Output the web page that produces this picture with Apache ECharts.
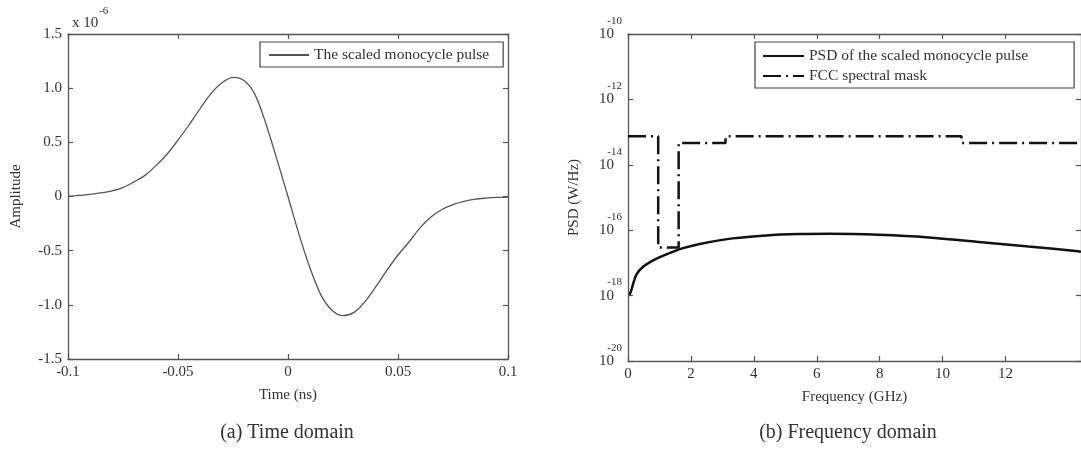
<!DOCTYPE html>
<html>
<head>
<meta charset="utf-8">
<script src="https://cdn.jsdelivr.net/npm/echarts@6/dist/echarts.min.js"></script>
<style>
html,body{margin:0;padding:0;background:#fff;}
#chart{width:1081px;height:452px;}
</style>
</head>
<body>
<div id="chart"></div>
<script>
// ---- (a) Time domain ----
const timeNs = [-0.100,-0.095,-0.090,-0.085,-0.080,-0.075,-0.070,-0.065,-0.060,-0.055,-0.050,-0.045,-0.040,-0.035,-0.030,-0.025,-0.020,-0.015,-0.010,-0.005,
  0.000,0.005,0.010,0.015,0.020,0.025,0.030,0.035,0.040,0.045,0.050,0.055,0.060,0.065,0.070,0.075,0.080,0.085,0.090,0.095,0.100];
// amplitude in units of 1e-6
const amplitude = [0.000,0.010,0.019,0.033,0.052,0.082,0.135,0.195,0.285,0.390,0.520,0.660,0.810,0.950,1.050,1.100,1.070,0.940,0.670,0.340,
  0.000,-0.350,-0.660,-0.910,-1.050,-1.100,-1.070,-0.970,-0.830,-0.680,-0.540,-0.420,-0.290,-0.190,-0.120,-0.075,-0.045,-0.025,-0.015,-0.008,-0.005];

// ---- (b) Frequency domain ----
const freqGHz = [0.05,0.10,0.17,0.27,0.48,0.80,1.22,1.75,2.28,3.33,4.39,5.45,6.40,7.98,9.56,11.15,12.73,14.31,14.40];
const psd = [1.05e-18,1.41e-18,2.40e-18,4.47e-18,7.59e-18,1.20e-17,1.82e-17,2.82e-17,3.80e-17,5.62e-17,6.92e-17,7.59e-17,7.76e-17,7.24e-17,6.03e-17,4.37e-17,3.16e-17,2.29e-17,2.19e-17];
const maskFreq = [0,0.96,0.96,1.61,1.61,3.1,3.1,10.6,10.6,14.4];
const maskPsd = [7.41e-14,7.41e-14,2.95e-17,2.95e-17,4.68e-14,4.68e-14,7.41e-14,7.41e-14,4.68e-14,4.68e-14];
const freqTicks = [0,2,4,6,8,10,12];
const psdTicks = [1e-20,1e-18,1e-16,1e-14,1e-12,1e-10];

const FONT = '"Liberation Serif","DejaVu Serif",serif';
const TXT = '#333';
const AXC = '#555';

function zip(a,b){ return a.map((v,i)=>[v,b[i]]); }

const axLine = {show:true, onZero:false, lineStyle:{color:AXC, width:1.3}};
const tickIn = {show:true, inside:true, length:5, lineStyle:{color:AXC, width:1.2}};
const lbl = {color:TXT, fontFamily:FONT, fontSize:15};

const option = {
  animation:false,
  backgroundColor:'#fff',
  grid:[
    {left:68, top:34, width:440, height:325},
    {left:628, top:34, width:454, height:327}
  ],
  xAxis:[
    {gridIndex:0, type:'value', min:-0.1, max:0.1, interval:0.05, position:'bottom',
     axisLine:axLine, axisTick:tickIn, splitLine:{show:false},
     axisLabel:Object.assign({margin:6}, lbl),
     name:'Time (ns)', nameLocation:'middle', nameGap:29,
     nameTextStyle:{color:TXT, fontFamily:FONT, fontSize:15}},
    {gridIndex:0, type:'value', min:-0.1, max:0.1, interval:0.05, position:'top',
     axisLine:axLine, axisTick:tickIn, axisLabel:{show:false}, splitLine:{show:false}},
    {gridIndex:1, type:'value', min:0, max:14.4, position:'bottom',
     axisLine:axLine, splitLine:{show:false},
     axisTick:Object.assign({customValues:freqTicks}, tickIn),
     axisLabel:Object.assign({margin:6, customValues:freqTicks}, lbl),
     name:'Frequency (GHz)', nameLocation:'middle', nameGap:29,
     nameTextStyle:{color:TXT, fontFamily:FONT, fontSize:15}},
    {gridIndex:1, type:'value', min:0, max:14.4, position:'top',
     axisLine:axLine, splitLine:{show:false},
     axisTick:Object.assign({customValues:freqTicks}, tickIn),
     axisLabel:{show:false}}
  ],
  yAxis:[
    {gridIndex:0, type:'value', min:-1.5, max:1.5, interval:0.5, position:'left',
     axisLine:axLine, axisTick:tickIn, splitLine:{show:false},
     axisLabel:Object.assign({margin:6, formatter:v => v===0 ? '0' : v.toFixed(1)}, lbl),
     name:'Amplitude', nameLocation:'middle', nameGap:44, nameRotate:90,
     nameTextStyle:{color:TXT, fontFamily:FONT, fontSize:15}},
    {gridIndex:0, type:'value', min:-1.5, max:1.5, interval:0.5, position:'right',
     axisLine:axLine, axisTick:tickIn, axisLabel:{show:false}, splitLine:{show:false}},
    {gridIndex:1, type:'log', logBase:10, min:1e-20, max:1e-10, position:'left',
     axisLine:axLine, splitLine:{show:false}, minorTick:{show:false},
     axisTick:Object.assign({customValues:psdTicks}, tickIn),
     axisLabel:{margin:6, padding:[0,0,12,0], align:'right', customValues:psdTicks,
       formatter:v => '{e|' + Math.round(Math.log10(v)) + '}\n{b|10}',
       rich:{
         e:{fontFamily:FONT, fontSize:11, color:TXT, lineHeight:12, align:'right'},
         b:{fontFamily:FONT, fontSize:15, color:TXT, lineHeight:14, align:'right', padding:[0,8,0,0]}
       }},
     name:'PSD (W/Hz)', nameLocation:'middle', nameGap:46, nameRotate:90,
     nameTextStyle:{color:TXT, fontFamily:FONT, fontSize:15}},
    {gridIndex:1, type:'log', logBase:10, min:1e-20, max:1e-10, position:'right',
     axisLine:axLine, splitLine:{show:false}, minorTick:{show:false},
     axisTick:Object.assign({customValues:psdTicks}, tickIn),
     axisLabel:{show:false}}
  ],
  legend:[
    {left:260, top:42, orient:'vertical', selectedMode:false,
     data:['The scaled monocycle pulse'],
     backgroundColor:'#fff', borderColor:'#444', borderWidth:1.2, borderRadius:0,
     padding:[5,14,4,8], itemWidth:40, itemHeight:12, itemGap:0,
     itemStyle:{opacity:0},
     textStyle:{fontFamily:FONT, fontSize:15.5, color:TXT}},
    {left:755, top:42, orient:'vertical', selectedMode:false,
     data:['PSD of the scaled monocycle pulse','FCC spectral mask'],
     backgroundColor:'#fff', borderColor:'#444', borderWidth:1.2, borderRadius:0,
     padding:[6,46,4,7], itemWidth:41, itemHeight:12, itemGap:4,
     itemStyle:{opacity:0},
     textStyle:{fontFamily:FONT, fontSize:15.5, color:TXT}}
  ],
  graphic:[
    {type:'text', left:72, top:16, style:{text:'x 10', fontFamily:FONT, fontSize:15, fill:TXT}},
    {type:'text', left:99, top:6, style:{text:'-6', fontFamily:FONT, fontSize:11, fill:TXT}},
    {type:'text', style:{text:'(a) Time domain', x:287, y:433, align:'center', verticalAlign:'middle', fontFamily:FONT, fontSize:20, fill:TXT}},
    {type:'text', style:{text:'(b) Frequency domain', x:848, y:433, align:'center', verticalAlign:'middle', fontFamily:FONT, fontSize:20, fill:TXT}}
  ],
  series:[
    {name:'The scaled monocycle pulse', type:'line', xAxisIndex:0, yAxisIndex:0,
     data:zip(timeNs, amplitude), smooth:0.3, symbol:'none', showSymbol:false,
     lineStyle:{color:'#555', width:1.3}, itemStyle:{color:'#555'}},
    {name:'PSD of the scaled monocycle pulse', type:'line', xAxisIndex:2, yAxisIndex:2,
     data:zip(freqGHz, psd), smooth:0.3, symbol:'none', showSymbol:false,
     lineStyle:{color:'#111', width:2.5}, itemStyle:{color:'#111'}},
    {name:'FCC spectral mask', type:'line', xAxisIndex:2, yAxisIndex:2,
     data:zip(maskFreq, maskPsd), symbol:'none', showSymbol:false,
     lineStyle:{color:'#111', width:2.5, type:[18,5,2,5], cap:'butt'}, itemStyle:{color:'#111'}}
  ]
};

const chart = echarts.init(document.getElementById('chart'), null, {renderer:'canvas'});
chart.setOption(option);
</script>
</body>
</html>
